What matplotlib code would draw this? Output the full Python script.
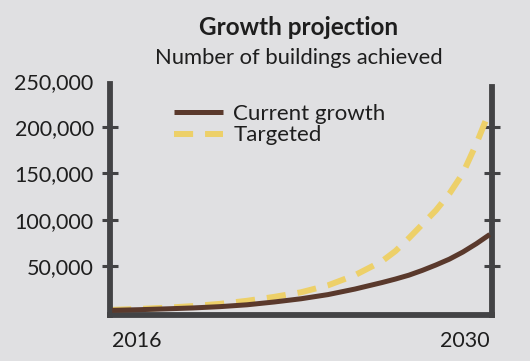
import matplotlib.pyplot as plt
import matplotlib as mpl

mpl.rcParams.update({'font.family': ['Lato', 'DejaVu Sans'], 'font.size': 15})

BG = '#e0e0e2'; AXIS = '#434345'; BROWN = '#5a392c'; YELLOW = '#edd069'; TEXT = '#1e1e1e'

# values
years_cur = [2016, 2017, 2018, 2019, 2020, 2021, 2022, 2023, 2024, 2025, 2026, 2026.5,
             2027, 2027.5, 2028, 2028.5, 2029, 2029.5, 2030]
current = [2000, 2700, 3600, 4600, 6000, 8000, 11000, 14500, 19000, 25000, 32000, 35800,
           40000, 45200, 51000, 57300, 65000, 74000, 84000]
years_tgt = [2016, 2017, 2018, 2019, 2020, 2021, 2022, 2023, 2024, 2025, 2026, 2026.5,
             2027, 2027.5, 2028, 2028.5, 2029, 2029.5, 2030]
targeted = [2500, 3500, 4800, 6600, 9000, 12300, 16500, 21500, 29000, 40000, 55000, 66000,
            80000, 95000, 110000, 128000, 150000, 182000, 218000]
yticks = [50000, 100000, 150000, 200000, 250000]
ytick_labels = ['50,000', '100,000', '150,000', '200,000', '250,000']

fig = plt.figure(figsize=(5.3, 3.61), dpi=100, facecolor=BG)
ax = fig.add_axes([0.2075, 0.1288, 0.7208, 0.6474], facecolor=BG)

ax.plot(years_cur, current, color=BROWN, lw=3.6, solid_capstyle='butt',
        solid_joinstyle='round', label='Current growth', zorder=3)
ax.plot(years_tgt, targeted, color=YELLOW, lw=4.3, ls=(0, (3.2, 2.0)),
        dash_capstyle='butt', label='Targeted', zorder=2)

ax.set_xlim(2015.92, 2030.08)
ax.set_ylim(-2500, 250000)

for side in ['left', 'right', 'bottom']:
    ax.spines[side].set_color(AXIS)
    ax.spines[side].set_linewidth(4.2)
ax.spines['top'].set_visible(False)
ax.spines['left'].set_bounds(-2500, 246500)
ax.spines['right'].set_bounds(-2500, 243500)

ax.set_yticks(yticks)
ax.set_yticklabels(ytick_labels, color=TEXT, fontsize=15.5)
ax.tick_params(axis='y', direction='inout', length=11.5, width=2.2, color=AXIS,
               right=True, pad=6)
ax.yaxis.get_major_ticks()[-1].tick1line.set_visible(False)
ax.yaxis.get_major_ticks()[-1].tick2line.set_visible(False)

ax.set_xticks([2016, 2030])
ax.set_xticklabels(['2016', '2030'], color=TEXT, fontsize=15.5)
ax.tick_params(axis='x', length=0, pad=12)
lbls = ax.get_xticklabels()
lbls[0].set_ha('left'); lbls[1].set_ha('right')

leg = ax.legend(loc='upper left', bbox_to_anchor=(0.145, 0.94), frameon=False,
                fontsize=16, handlelength=2.2, handletextpad=0.45, labelspacing=0.08,
                borderaxespad=0)
for t in leg.get_texts():
    t.set_color(TEXT)

fig.text(0.563, 0.925, 'Growth projection', ha='center', va='center',
         fontsize=17.5, fontweight='bold', color=TEXT)
fig.text(0.563, 0.838, 'Number of buildings achieved', ha='center', va='center',
         fontsize=15.8, color=TEXT)

fig.savefig('out.png', dpi=100, facecolor=BG)
